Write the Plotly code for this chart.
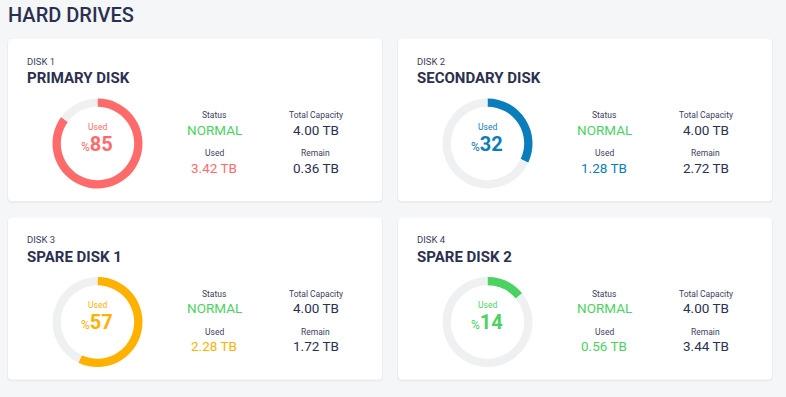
import plotly.graph_objects as go

W, H = 786, 397

disk_labels = ["DISK 1", "DISK 2", "DISK 3", "DISK 4"]
disk_names = ["PRIMARY DISK", "SECONDARY DISK", "SPARE DISK 1", "SPARE DISK 2"]
used_pct = [85, 32, 57, 14]
free_pct = [15, 68, 43, 86]
used_tb = ["3.42 TB", "1.28 TB", "2.28 TB", "0.56 TB"]
total_tb = ["4.00 TB", "4.00 TB", "4.00 TB", "4.00 TB"]
remain_tb = ["0.36 TB", "2.72 TB", "1.72 TB", "3.44 TB"]
status = ["NORMAL", "NORMAL", "NORMAL", "NORMAL"]
colors = ["#ff6b6b", "#0b7dba", "#ffb100", "#4cd263"]

TRACK = "#eff0f2"
DARK = "#2b3050"
LABEL = "#3b405c"
GREEN = "#4cd263"
BG = "#f5f6f8"
FONT = "Roboto"

# card origins (pixels)
origins = [(8, 39), (398, 39), (8, 217.5), (398, 217.5)]
CW, CH = 374, 162


def px(x):
    return x / W


def py(y):
    return 1 - y / H


def rrect(x0, y0, x1, y1, r):
    X = lambda v: px(v)
    Y = lambda v: py(v)
    rx, ry = r / W, r / H
    return (f"M {X(x0)+rx} {Y(y0)} L {X(x1)-rx} {Y(y0)} Q {X(x1)} {Y(y0)} {X(x1)} {Y(y0)-ry} "
            f"L {X(x1)} {Y(y1)+ry} Q {X(x1)} {Y(y1)} {X(x1)-rx} {Y(y1)} "
            f"L {X(x0)+rx} {Y(y1)} Q {X(x0)} {Y(y1)} {X(x0)} {Y(y1)+ry} "
            f"L {X(x0)} {Y(y0)-ry} Q {X(x0)} {Y(y0)} {X(x0)+rx} {Y(y0)} Z")


fig = go.Figure()
shapes = []
ann = []


def text(x, y, s, size, color, weight="normal", xanchor="center"):
    ann.append(dict(x=px(x), y=py(y), xref="paper", yref="paper", text=s, showarrow=False,
                    xanchor=xanchor, yanchor="middle", borderpad=0,
                    font=dict(family=FONT, size=size, color=color, weight=weight)))


text(7, 15, "HARD DRIVES", 20, DARK, weight=500, xanchor="left")

R = 45
for i, (ox, oy) in enumerate(origins):
    shapes.append(dict(type="path", xref="paper", yref="paper",
                       path=rrect(ox - 1, oy, ox + CW + 1, oy + CH + 2, 5),
                       fillcolor="rgba(40,50,80,0.05)", line=dict(width=0), layer="below"))
    shapes.append(dict(type="path", xref="paper", yref="paper",
                       path=rrect(ox, oy, ox + CW, oy + CH, 4),
                       fillcolor="white", line=dict(width=0), layer="below"))
    cx, cy = ox + 89.5, oy + 104.5
    fig.add_trace(go.Pie(
        values=[used_pct[i], free_pct[i]],
        labels=["Used", "Free"],
        hole=0.815, sort=False, direction="clockwise", rotation=0,
        marker=dict(colors=[colors[i], TRACK], line=dict(width=0)),
        textinfo="none", hoverinfo="skip", showlegend=False,
        domain=dict(x=[px(cx - R), px(cx + R)], y=[py(cy + R), py(cy - R)]),
    ))
    text(ox + 18, oy + 22, disk_labels[i], 9.5, LABEL, xanchor="left")
    text(ox + 18, oy + 39.5, disk_names[i], 15, DARK, weight="bold", xanchor="left")
    text(cx, cy - 17, "Used", 8.5, colors[i])
    text(cx - 1, cy, f"<span style='font-size:12px'>%</span><b>{used_pct[i]}</b>", 20, colors[i])
    c1, c2 = ox + 206, ox + 307.5
    text(c1, oy + 76, "Status", 8.5, LABEL)
    text(c1, oy + 90.5, status[i], 13.5, GREEN)
    text(c1, oy + 114, "Used", 8.5, LABEL)
    text(c1, oy + 128.5, used_tb[i], 13.5, colors[i])
    text(c2, oy + 76, "Total Capacity", 8.5, LABEL)
    text(c2, oy + 90.5, total_tb[i], 13.5, DARK)
    text(c2, oy + 114, "Remain", 8.5, LABEL)
    text(c2, oy + 128.5, remain_tb[i], 13.5, DARK)

fig.update_layout(
    width=W, height=H, margin=dict(l=0, r=0, t=0, b=0),
    paper_bgcolor=BG, plot_bgcolor=BG,
    shapes=shapes, annotations=ann,
    font=dict(family=FONT),
)
fig.write_html("out.html", config={"displayModeBar": False},
               post_script="document.body.style.margin='0';document.body.style.overflow='hidden';"
                           "document.body.style.background='#f5f6f8';")
